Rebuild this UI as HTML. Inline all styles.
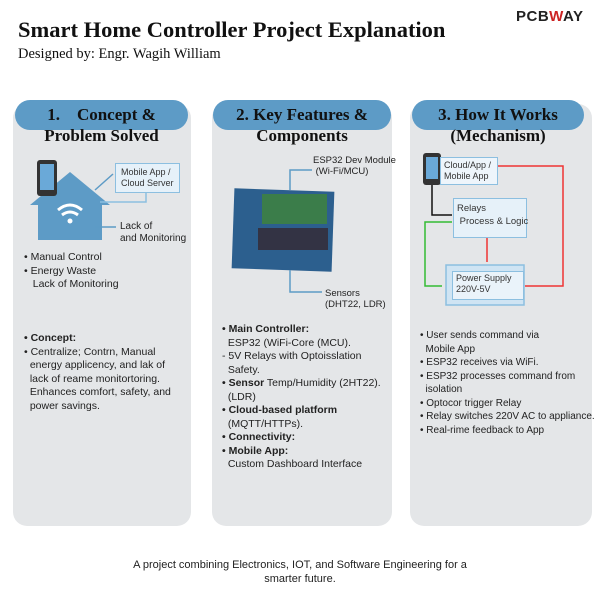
<!DOCTYPE html><html><head><style>
body{margin:0;width:600px;height:600px;background:#fff;position:relative;overflow:hidden;font-family:"Liberation Sans",sans-serif}
.a{position:absolute}
.panel{position:absolute;top:104px;height:422px;background:#e4e6e8;border-radius:14px}
.pill{position:absolute;top:100px;height:30px;background:#5d9bc6;border-radius:15px}
.ser{font-family:"Liberation Serif",serif;font-weight:bold;color:#111;font-size:17px;text-align:center}
.t{font-size:10.5px;color:#222;line-height:13.5px;white-space:nowrap}
.box{position:absolute;background:#e6f1f9;border:1.5px solid #8cbfe0;font-size:9px;color:#333;line-height:11px;white-space:nowrap}
</style></head><body>
<div class="a" style="left:18px;top:17px;font-family:'Liberation Serif',serif;font-weight:bold;font-size:22.5px;color:#111">Smart Home Controller Project Explanation</div>
<div class="a" style="left:18px;top:46px;font-family:'Liberation Serif',serif;font-size:14.5px;color:#111">Designed by: Engr. Wagih William</div>
<div class="a" style="left:516px;top:8px;font-weight:bold;font-size:15px;color:#222;letter-spacing:0.5px">PCB<span style="color:#c22">W</span>AY</div>

<div class="panel" style="left:13px;width:178px"></div>
<div class="panel" style="left:212px;width:180px"></div>
<div class="panel" style="left:410px;width:182px"></div>
<div class="pill" style="left:15px;width:173px"></div>
<div class="pill" style="left:213px;width:178px"></div>
<div class="pill" style="left:412px;width:172px"></div>
<div class="a ser" style="left:15px;width:173px;top:104px;line-height:21px">1.&nbsp;&nbsp;&nbsp;&nbsp;Concept &amp;<br>Problem Solved</div>
<div class="a ser" style="left:213px;width:178px;top:104px;line-height:21px">2. Key Features &amp;<br>Components</div>
<div class="a ser" style="left:412px;width:172px;top:104px;line-height:21px">3. How It Works<br>(Mechanism)</div>

<svg class="a" style="left:0;top:0" width="600" height="600">
<polygon points="30,205 70,172 110,205 102,205 102,240 38,240 38,205" fill="#5d9bc6"/>
<rect x="37" y="160" width="20" height="36" rx="3" fill="#333"/><rect x="40" y="164" width="14" height="26" fill="#6aa9d8"/>
<path d="M58,210 q12,-10 24,0 M62,215 q8,-6 16,0" stroke="#fff" stroke-width="3" fill="none"/><circle cx="70" cy="221" r="2.5" fill="#fff"/>
<line x1="95" y1="190" x2="113" y2="174" stroke="#5d9bc6" stroke-width="1.5"/>
<polyline points="100,202 146,202 146,192" stroke="#8cbfe0" fill="none" stroke-width="1.5"/>
<line x1="95" y1="227" x2="116" y2="227" stroke="#5d9bc6" stroke-width="1.5"/>
<rect x="233" y="190" width="100" height="80" fill="#2c5f8e" transform="rotate(2 283 230)"/>
<rect x="262" y="194" width="65" height="30" fill="#3b7d4a"/>
<rect x="258" y="228" width="70" height="22" fill="#334"/>
<polyline points="290,190 290,170 312,170" stroke="#5d9bc6" fill="none" stroke-width="1.5"/>
<polyline points="290,270 290,292 322,292" stroke="#5d9bc6" fill="none" stroke-width="1.5"/>
<rect x="423" y="153" width="18" height="32" rx="3" fill="#333"/><rect x="426" y="157" width="12" height="22" fill="#6aa9d8"/>
<polyline points="432,185 432,215 452,215" stroke="#111" fill="none" stroke-width="1.5"/>
<polyline points="493,166 563,166 563,286 525,286" stroke="#e33" fill="none" stroke-width="1.5"/>
<line x1="487" y1="237" x2="487" y2="262" stroke="#e33" stroke-width="1.5"/>
<polyline points="452,222 425,222 425,286 442,286" stroke="#3b3" fill="none" stroke-width="1.5"/>
<rect x="446" y="265" width="78" height="40" fill="#cfe4f3" stroke="#8cbfe0" stroke-width="1.5"/>
</svg>
<div class="box" style="left:115px;top:163px;padding:3px 5px">Mobile App /<br>Cloud Server</div>
<div class="a t" style="left:120px;top:221px;font-size:10px;line-height:12px">Lack of<br>and Monitoring</div>
<div class="a t" style="left:24px;top:251px">• Manual Control<br>• Energy Waste<br>&nbsp;&nbsp;&nbsp;Lack of Monitoring</div>
<div class="a t" style="left:24px;top:332px"><b>• Concept:</b><br>• Centralize; Contrn, Manual<br>&nbsp;&nbsp;energy applicency, and lak of<br>&nbsp;&nbsp;lack of reame monitortoring.<br>&nbsp;&nbsp;Enhances comfort, safety, and<br>&nbsp;&nbsp;power savings.</div>
<div class="a t" style="left:313px;top:155px;font-size:9.5px;line-height:11px">ESP32 Dev Module<br>&nbsp;(Wi-Fi/MCU)</div>
<div class="a t" style="left:325px;top:288px;font-size:9.5px;line-height:11px">Sensors<br>(DHT22, LDR)</div>
<div class="a t" style="left:222px;top:323px"><b>• Main Controller:</b><br>&nbsp;&nbsp;ESP32 (WiFi-Core (MCU).<br>- 5V Relays with Optoisslation<br>&nbsp;&nbsp;Safety.<br><b>• Sensor</b> Temp/Humidity (2HT22).<br>&nbsp;&nbsp;(LDR)<br><b>• Cloud-based platform</b><br>&nbsp;&nbsp;(MQTT/HTTPs).<br><b>• Connectivity:</b><br><b>• Mobile App:</b><br>&nbsp;&nbsp;Custom Dashboard Interface</div>
<div class="box" style="left:440px;top:157px;width:50px;padding:2px 3px;background:#eef5fb">Cloud/App /<br>Mobile App</div>
<div class="box" style="left:453px;top:198px;width:66px;height:32px;padding:3px 3px;font-size:9.5px;line-height:13px">Relays<br>&nbsp;Process &amp; Logic</div>
<div class="box" style="left:452px;top:271px;width:64px;height:25px;padding:1px 3px;background:#eaf3fa">Power Supply<br>220V-5V</div>
<div class="a t" style="left:420px;top:329px;font-size:10px">• User sends command via<br>&nbsp;&nbsp;Mobile App<br>• ESP32 receives via WiFi.<br>• ESP32 processes command from<br>&nbsp;&nbsp;isolation<br>• Optocor trigger Relay<br>• Relay switches 220V AC to appliance.<br>• Real-rime feedback to App</div>
<div class="a" style="left:100px;top:558px;width:400px;text-align:center;font-size:11px;color:#222;line-height:14px">A project combining Electronics, IOT, and Software Engineering for a<br>smarter future.</div>
</body></html>
